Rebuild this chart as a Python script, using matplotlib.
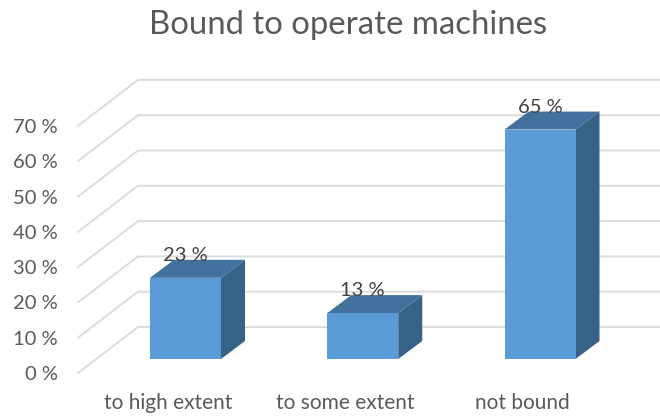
#!/usr/bin/env python
import matplotlib
matplotlib.use('Agg')
import matplotlib.pyplot as plt
from matplotlib.patches import Polygon

categories = ['to high extent', 'to some extent', 'not bound']
values = [23, 13, 65]
value_labels = ['23 %', '13 %', '65 %']
ticks = [0, 10, 20, 30, 40, 50, 60, 70]

W, H = 660, 417
X0, XSTEP = 185.5, 177.25   # pixel centre of first bar, bar spacing
Y0, YSCALE = 359.0, 3.53    # pixel of 0 % at the bar front, pixels per %


def px_x(p):
    return (p - X0) / XSTEP


def px_y(p):
    return (Y0 - p) / YSCALE


plt.rcParams['font.family'] = ['Lato', 'DejaVu Sans']
fig = plt.figure(figsize=(W / 100, H / 100), dpi=100)
ax = fig.add_axes([0, 0, 1, 1])
ax.set_xlim(px_x(0), px_x(W))
ax.set_ylim(px_y(H), px_y(0))
ax.axis('off')

# floor/wall gridlines, slanted on the left side wall
dy_front = px_y(373) - 0
dy_back = px_y(327) - 0
for t in ticks:
    ax.plot([px_x(78), px_x(138), px_x(W)],
            [t + dy_front, t + dy_back, t + dy_back],
            color='#dcdcdc', lw=1.4, zorder=1, solid_joinstyle='miter')
    ax.text(px_x(58), t + dy_front, '%d %%' % t, ha='right', va='center_baseline',
            fontsize=14.5, color='#595959')

bar_w = 71 / XSTEP
depth_x = 24 / XSTEP
depth_y = 18 / YSCALE
for i, (v, lab) in enumerate(zip(values, value_labels)):
    l, r = i - bar_w / 2, i + bar_w / 2
    ax.add_patch(Polygon([(r, 0), (r + depth_x, depth_y), (r + depth_x, v + depth_y), (r, v)],
                         facecolor='#376288', edgecolor='none', zorder=2))
    ax.add_patch(Polygon([(l, v), (r, v), (r + depth_x, v + depth_y), (l + depth_x, v + depth_y)],
                         facecolor='#41719c', edgecolor='none', zorder=2))
    ax.bar(i, v, width=bar_w, color='#5b9bd5', zorder=3)
    ax.text(i, v + 6.8, lab, ha='center', va='center_baseline', fontsize=14.5, color='#404040', zorder=4)
    ax.text(i - 0.1, px_y(401), categories[i], ha='center', va='center_baseline',
            fontsize=15, color='#595959')

ax.text(px_x(348), px_y(22), 'Bound to operate machines', ha='center', va='center_baseline',
        fontsize=23.7, color='#595959')

fig.savefig('out.png', dpi=100, facecolor='white')
